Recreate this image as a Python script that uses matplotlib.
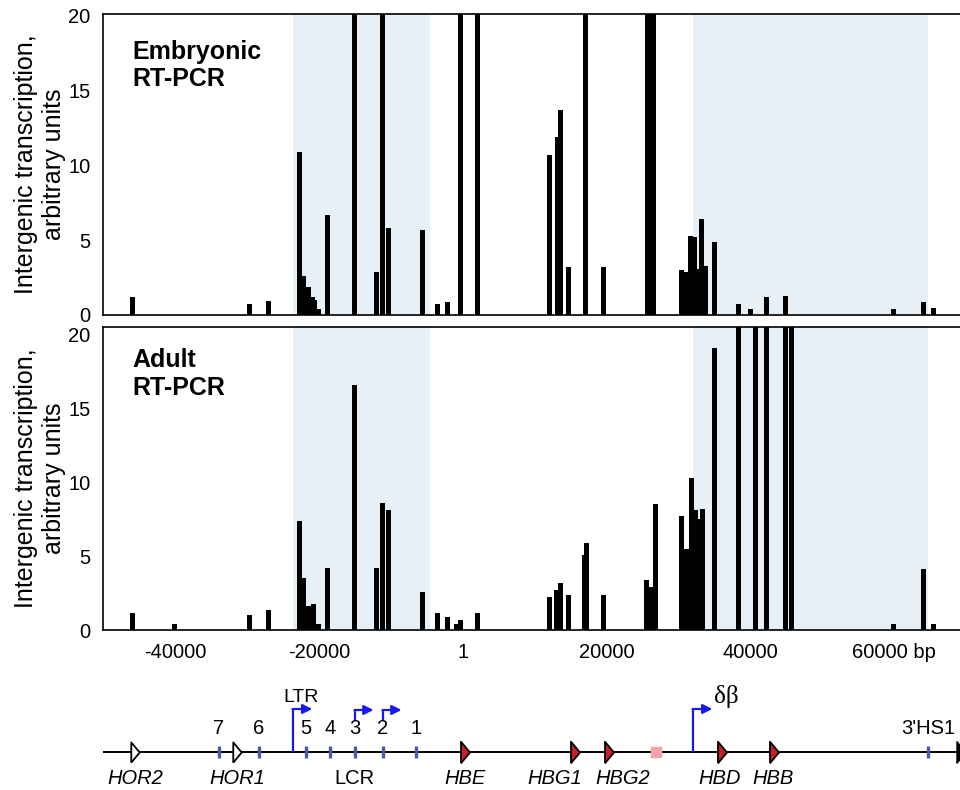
import matplotlib
matplotlib.use('Agg')
import matplotlib.pyplot as plt

plt.rcParams['font.family'] = ['Liberation Sans', 'DejaVu Sans']

# ---- data (positions in bp, signal in arbitrary units) ----
# values above 20 run off the top of the panel
emb_pos = [-45900, -29700, -27000, -22650, -22200, -21500, -20950, -20550, -20000,
           -18750, -15000, -11950, -11100, -10250, -5650, -3450, -2050, -250, 2100,
           12150, 13150, 13650, 14800, 17150, 19650, 25800, 26600,
           30500, 31200, 31750, 32200, 32700, 33300, 33850, 35100,
           38450, 40000, 42350, 45000, 59900, 64100, 65500]
emb_val = [1.2, 0.75, 0.95, 10.9, 2.6, 1.9, 1.2, 1.0, 0.4,
           6.7, 25, 2.9, 25, 5.8, 5.7, 0.75, 0.9, 25, 25,
           10.7, 11.9, 13.7, 3.2, 25, 3.2, 25, 25,
           3.0, 2.9, 5.3, 5.2, 3.1, 6.4, 3.3, 4.9,
           0.75, 0.4, 1.2, 1.3, 0.4, 0.9, 0.45]

adult_pos = [-45900, -40050, -29700, -27000, -22650, -22200, -21500, -20750, -20000,
             -18750, -15000, -11950, -11100, -10250, -5650, -3450, -2050, -800, -250, 2100,
             12150, 13100, 13650, 14800, 16900, 17300, 19650, 25600, 26300, 26900,
             30500, 31200, 31900, 32450, 33000, 33450, 35050,
             38450, 40700, 42350, 44950, 45750, 59900, 64100, 65500]
adult_val = [1.15, 0.4, 1.0, 1.35, 7.4, 3.5, 1.6, 1.75, 0.4,
             4.2, 16.6, 4.2, 8.6, 8.1, 2.6, 1.15, 0.85, 0.4, 0.65, 1.15,
             2.2, 2.7, 3.2, 2.4, 5.1, 5.9, 2.4, 3.4, 2.9, 8.5,
             7.7, 5.5, 10.3, 8.1, 7.5, 8.2, 19.1,
             25, 25, 25, 25, 25, 0.4, 4.1, 0.4]

shade_regions = [(-23600, -4550), (32050, 64750)]

x_ticks = [-40000, -20000, 1, 20000, 40000, 60000]
x_ticklabels = ['-40000', '-20000', '1', '20000', '40000', '60000 bp']
y_ticks = [0, 5, 10, 15, 20]

# ---- locus map ----
hs_pos = [-33900, -28350, -21800, -18450, -15000, -11100, -6500]
hs_labels = ['7', '6', '5', '4', '3', '2', '1']
hs3_pos = 64750
hor_pos = [-45600, -31400]
hor_labels = ['HOR2', 'HOR1']
gene_pos = [300, 15650, 20350, 36100, 43350]
gene_label_pos = [300, 12850, 22300, 35800, 43200]
gene_labels = ['HBE', 'HBG1', 'HBG2', 'HBD', 'HBB']
pseudo_pos = 26900
ltr_pos = -23620
db_pos = 32060
hs_arrow_pos = [-15000, -11100]
lcr_pos = -15000
end_pos = 69300

XMIN, XMAX = -50050, 69500
BAR_W = 700
SHADE = '#e7f0f6'
BLUE = '#1818f0'

fig = plt.figure(figsize=(9.6, 7.9), dpi=100)
ax_w = (962 - 103) / 960
ax_top = fig.add_axes([103 / 960, 1 - 315 / 790, ax_w, 301 / 790])
ax_bot = fig.add_axes([103 / 960, 1 - 630 / 790, ax_w, 303 / 790])
ax_map = fig.add_axes([103 / 960, 0, ax_w, 110 / 790])


def panel(ax, pos, val, title, ytop, ty):
    for a, b in shade_regions:
        ax.axvspan(a, b, color=SHADE, lw=0, zorder=0)
    ax.bar(pos, val, width=BAR_W, color='black', lw=0, zorder=2)
    ax.set_xlim(XMIN, XMAX)
    ax.set_ylim(0, ytop)
    ax.set_yticks(y_ticks)
    ax.set_yticklabels([str(t) for t in y_ticks], fontsize=14.5)
    ax.tick_params(length=0, pad=9)
    for s in ['top', 'left', 'bottom']:
        ax.spines[s].set_linewidth(1.2)
    ax.spines['right'].set_visible(False)
    ax.text(0.034, ty, title, transform=ax.transAxes, fontsize=18,
            fontweight='bold', va='top', ha='left', linespacing=1.2)


panel(ax_top, emb_pos, emb_val, 'Embryonic\nRT-PCR', 20.08, 0.915)
ax_top.set_xticks(x_ticks)
ax_top.set_xticklabels([])
panel(ax_bot, adult_pos, adult_val, 'Adult\nRT-PCR', 20.5, 0.93)
ax_bot.set_xticks(x_ticks)
ax_bot.set_xticklabels(x_ticklabels, fontsize=14.5)

for yc in [1 - 164 / 790, 1 - 478 / 790]:
    fig.text(40 / 960, yc, 'Intergenic transcription,\narbitrary units',
             rotation=90, ha='center', va='center', fontsize=18, linespacing=1.2)

# ---- map drawing (y in pixels above figure bottom) ----
ax_map.set_xlim(XMIN, XMAX)
ax_map.set_ylim(0, 110)
ax_map.axis('off')
LINE_Y = 38
ax_map.plot([XMIN, XMAX], [LINE_Y, LINE_Y], color='black', lw=1.4, zorder=1)

tri = [(-0.42, -1), (0.42, 0), (-0.42, 1), (-0.42, -1)]
ax_map.plot(hor_pos, [LINE_Y] * len(hor_pos), ls='none', marker=tri, ms=14.5,
            mfc='white', mec='black', mew=1.3, zorder=3)
ax_map.plot(gene_pos, [LINE_Y] * len(gene_pos), ls='none', marker=tri, ms=15.5,
            mfc='#c8202a', mec='black', mew=1.3, zorder=3)
ax_map.plot([end_pos], [LINE_Y], ls='none', marker=tri, ms=15.5,
            mfc='black', mec='black', clip_on=False, zorder=3)
ax_map.plot(hs_pos + [hs3_pos], [LINE_Y] * (len(hs_pos) + 1), ls='none',
            marker='|', ms=8, mew=2.4, color='#4a5aa8', zorder=3)
ax_map.plot([pseudo_pos], [LINE_Y], ls='none', marker='s', ms=7,
            color='#f2a4a6', zorder=3)

for x, lab in zip(hs_pos, hs_labels):
    ax_map.text(x, 62, lab, ha='center', va='center', fontsize=14.5)
ax_map.text(hs3_pos, 62, "3'HS1", ha='center', va='center', fontsize=14.5)
for x, lab in zip(hor_pos, hor_labels):
    ax_map.text(x, 12, lab, ha='center', va='center', fontsize=14.5, style='italic')
for x, lab in zip(gene_label_pos, gene_labels):
    ax_map.text(x, 12, lab, ha='center', va='center', fontsize=14.5, style='italic')
ax_map.text(lcr_pos, 12, 'LCR', ha='center', va='center', fontsize=14.5)


def bent_arrow(x, y0, y1, length):
    ax_map.plot([x, x], [y0, y1], color=BLUE, lw=1.6, solid_capstyle='butt', zorder=2)
    ax_map.annotate('', xy=(x + length, y1), xytext=(x - 60, y1),
                    arrowprops=dict(arrowstyle='-|>', color=BLUE, lw=1.6,
                                    mutation_scale=14, shrinkA=0, shrinkB=0))


bent_arrow(ltr_pos, LINE_Y, 81, 2700)
bent_arrow(db_pos, LINE_Y, 81, 2700)
for x in hs_arrow_pos:
    bent_arrow(x, 69, 80, 2600)
ax_map.text(ltr_pos + 1200, 93, 'LTR', ha='center', va='center', fontsize=14)
ax_map.text(db_pos + 4700, 93, '\u03b4\u03b2', ha='center', va='center',
            fontsize=18, family=['Liberation Serif', 'DejaVu Serif'])

fig.savefig('out.png', dpi=100)
